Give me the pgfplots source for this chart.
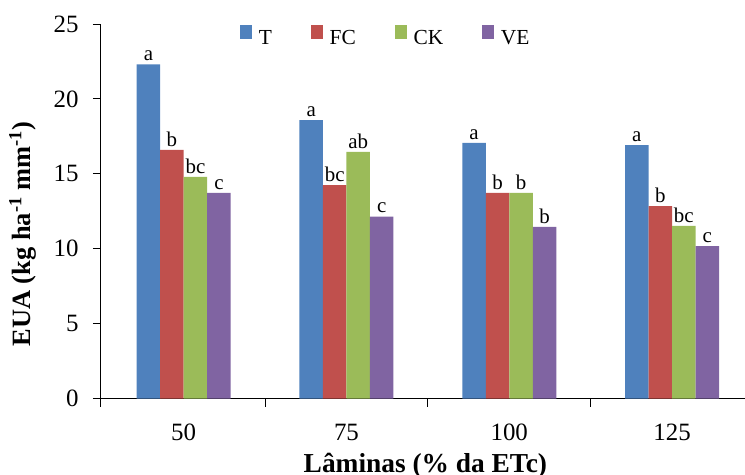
\documentclass[border=0pt]{standalone}
\usepackage{pgfplots}
\pgfplotsset{compat=1.18}
\usepackage{fontspec}
\setmainfont{Liberation Serif}
\definecolor{cT}{HTML}{4F81BD}
\definecolor{cFC}{HTML}{C0504D}
\definecolor{cCK}{HTML}{9BBB59}
\definecolor{cVE}{HTML}{8064A2}
\begin{document}
\begin{tikzpicture}
\begin{axis}[
  scale only axis,
  width=645bp, height=374.5bp,
  xmin=-0.514, xmax=3.448,
  ymin=0, ymax=25,
  axis x line*=bottom, axis y line*=left,
  axis line style={line width=0.9bp, black},
  ybar=0pt, bar width=23.5bp,
  xtick={0,1,2,3}, xticklabels={50,75,100,125},
  minor xtick={-0.514,0.5,1.5,2.5},
  ytick={0,5,10,15,20,25},
  tick align=outside,
  major tick length=7bp, minor tick length=8bp,
  major x tick style={draw=none},
  tick style={line width=0.9bp, black},
  ticklabel style={font=\fontsize{25}{30}\selectfont},
  xticklabel style={yshift=-15bp},
  yticklabel style={xshift=-11bp},
  /pgf/number format/assume math mode=true,
  xlabel={\textbf{Lâminas (\% da ETc)}},
  ylabel={\textbf{EUA (kg ha\textsuperscript{-1} mm\textsuperscript{-1})}},
  label style={font=\fontsize{26.5}{30}\selectfont},
  xlabel style={font=\fontsize{27.5}{30}\selectfont, at={(axis description cs:0.5045,0)}, anchor=north, yshift=-51bp},
  ylabel style={at={(axis description cs:-0.120,0.439)}, anchor=center},
  legend columns=4,
  legend style={draw=none, fill=none, font=\fontsize{21.5}{24}\selectfont,
    at={(axis description cs:0.217,0.966)}, anchor=west, inner sep=0pt,
    /tikz/every even column/.append style={column sep=37bp},
    /tikz/every odd column/.append style={column sep=5bp}},
  point meta=explicit symbolic,
  nodes near coords,
  every node near coord/.append style={font=\fontsize{21}{24}\selectfont, black, anchor=south},
]
\addplot[fill=cT, draw=none, legend image code/.code={\fill[cT] (0bp,-1bp) rectangle (11.7bp,12.7bp);}]
  coordinates {(0,22.31) [a] (1,18.59) [a] (2,17.06) [a] (3,16.92) [a]};
\addplot[fill=cFC, draw=none, legend image code/.code={\fill[cFC] (0bp,-1bp) rectangle (11.7bp,12.7bp);}]
  coordinates {(0,16.59) [b] (1,14.25) [bc] (2,13.72) [b] (3,12.85) [b]};
\addplot[fill=cCK, draw=none, legend image code/.code={\fill[cCK] (0bp,-1bp) rectangle (11.7bp,12.7bp);}]
  coordinates {(0,14.79) [bc] (1,16.47) [ab] (2,13.72) [b] (3,11.52) [bc]};
\addplot[fill=cVE, draw=none, legend image code/.code={\fill[cVE] (0bp,-1bp) rectangle (11.7bp,12.7bp);}]
  coordinates {(0,13.72) [c] (1,12.14) [c] (2,11.45) [b] (3,10.18) [c]};
\legend{T,FC,CK,VE}
\end{axis}
\pgfresetboundingbox
\path[use as bounding box] ([xshift=-100bp,yshift=-76.5bp]current axis.south west) rectangle ([yshift=24bp]current axis.north east);
\end{tikzpicture}
\end{document}
